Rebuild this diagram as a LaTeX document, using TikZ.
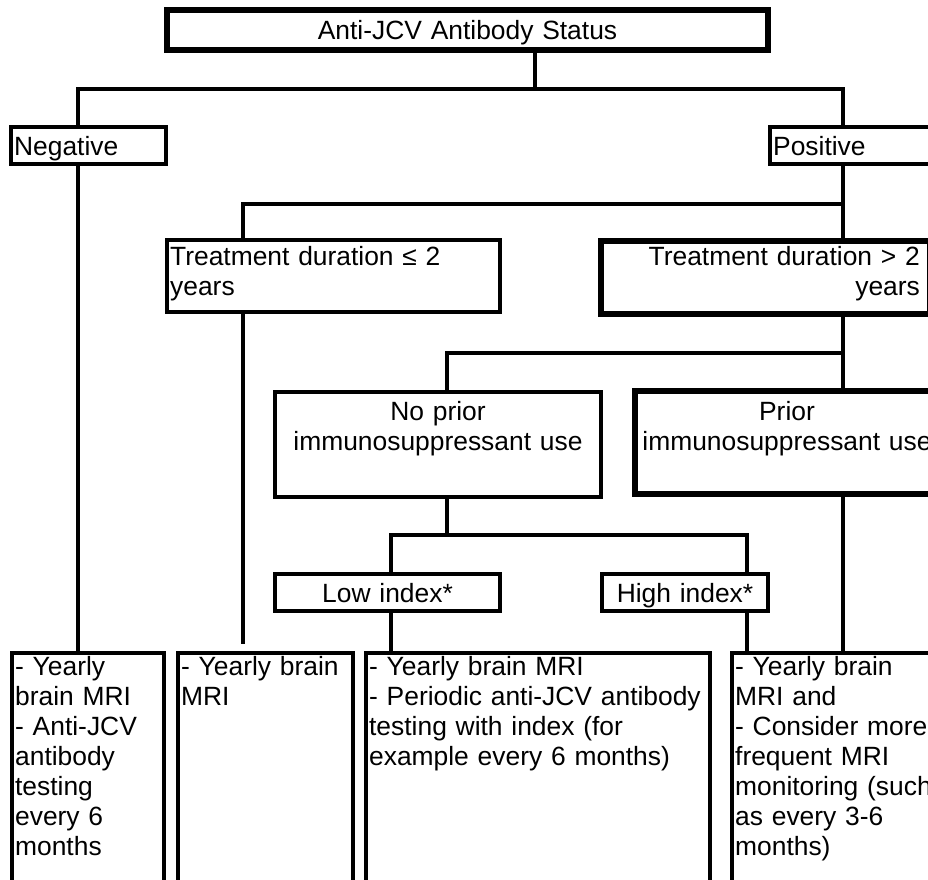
\documentclass[tikz,border=0pt]{standalone}
\usepackage{fontspec}
\setmainfont{Liberation Sans}
\newcommand{\boxfont}{\fontsize{26.4}{30}\selectfont}
\tikzset{
  stage/.style={draw, line width=4.3pt, inner xsep=3pt, inner ysep=0pt, anchor=north west, font=\boxfont},
  keystage/.style={stage, line width=6.3pt},
  link/.style={line width=4.5pt},
}

\begin{document}
\begin{tikzpicture}[x=1pt,y=1pt]
    \useasboundingbox (0,0) rectangle (928,-879);
    \clip (0,0) rectangle (928,-879);

    % boxes
    \node[keystage, text width=594.7pt, align=center, text height=29.35pt, text depth=10.35pt] (status) at (164,-7) {Anti-JCV Antibody Status};
    \node[stage, text width=148.7pt, align=left, text height=27.85pt, text depth=8.85pt] (neg) at (9,-125) {Negative};
    \node[stage, text width=161.7pt, align=left, text height=27.85pt, text depth=8.85pt] (pos) at (768,-125) {Positive};
    \node[stage, text width=326.7pt, align=left, text height=24.85pt, text depth=46.85pt] (tshort) at (165,-238) {Treatment duration ≤ 2\\years};
    \node[keystage, inner xsep=10pt, text width=308.7pt, align=right, text height=23.85pt, text depth=48.85pt] (tlong) at (598,-238) {Treatment duration > 2\\years};
    \node[stage, text width=319.7pt, align=center, text height=27.85pt, text depth=76.85pt] (noprior) at (273,-390) {No prior\\immunosuppressant use};
    \node[keystage, text width=297.7pt, align=center, text height=28.85pt, text depth=73.85pt] (prior) at (632,-388) {Prior\\immunosuppressant use};
    \node[stage, text width=218.7pt, align=center, text height=27.85pt, text depth=8.85pt] (low) at (273,-572) {Low index*};
    \node[stage, text width=159.7pt, align=center, text height=27.85pt, text depth=8.85pt] (high) at (600,-572) {High index*};

    % recommendations
    \node[stage, text width=145.7pt, align=left, text height=21.85pt, text depth=222.85pt] (negplan) at (10,-651) {- Yearly\\brain MRI\\- Anti-JCV\\antibody\\testing\\every 6\\months};
    \node[stage, text width=168.7pt, align=left, text height=21.85pt, text depth=222.85pt] (shortplan) at (176,-651) {- Yearly brain\\MRI};
    \node[stage, text width=337.7pt, align=left, text height=21.85pt, text depth=222.85pt] (lowplan) at (364,-651) {- Yearly brain MRI\\- Periodic anti-JCV antibody\\testing with index (for\\example every 6 months)};
    \node[stage, text width=204.7pt, align=left, text height=21.85pt, text depth=222.85pt] (highplan) at (730,-651) {- Yearly brain\\MRI and\\- Consider more\\frequent MRI\\monitoring (such\\as every 3-6\\months)};

    % junctions
    \coordinate (j1) at (535,-89);
    \coordinate (j1l) at (78,-89);
    \coordinate (j1r) at (843,-89);
    \coordinate (j2l) at (243,-204);
    \coordinate (j2r) at (843,-204);
    \coordinate (j3l) at (447,-353);
    \coordinate (j3r) at (843,-353);
    \coordinate (j4) at (447,-535);
    \coordinate (j4l) at (391,-535);
    \coordinate (j4r) at (747,-535);

    % connectors
    \draw[link] (status.south -| j1) -- (j1);
    \draw[link] (neg.north -| j1l) -- (j1l) -- (j1r) -- (pos.north -| j1r);
    \draw[link] (neg.south -| j1l) -- (negplan.north -| j1l);

    \draw[link] (pos.south -| j2r) -- (tlong.north -| j2r);
    \draw[link] (j2r) -- (j2l) -- (tshort.north -| j2l);
    \draw[link] (tshort.south -| j2l) -- ([yshift=7pt]shortplan.north -| j2l);

    \draw[link] (tlong.south -| j3r) -- (prior.north -| j3r);
    \draw[link] (j3r) -- (j3l) -- (noprior.north -| j3l);
    \draw[link] (prior.south -| j3r) -- (highplan.north -| j3r);

    \draw[link] (noprior.south -| j4) -- (j4);
    \draw[link] (low.north -| j4l) -- (j4l) -- (j4r) -- (high.north -| j4r);
    \draw[link] (low.south -| j4l) -- (lowplan.north -| j4l);
    \draw[link] (high.south -| j4r) -- (highplan.north -| j4r);
\end{tikzpicture}
\end{document}
